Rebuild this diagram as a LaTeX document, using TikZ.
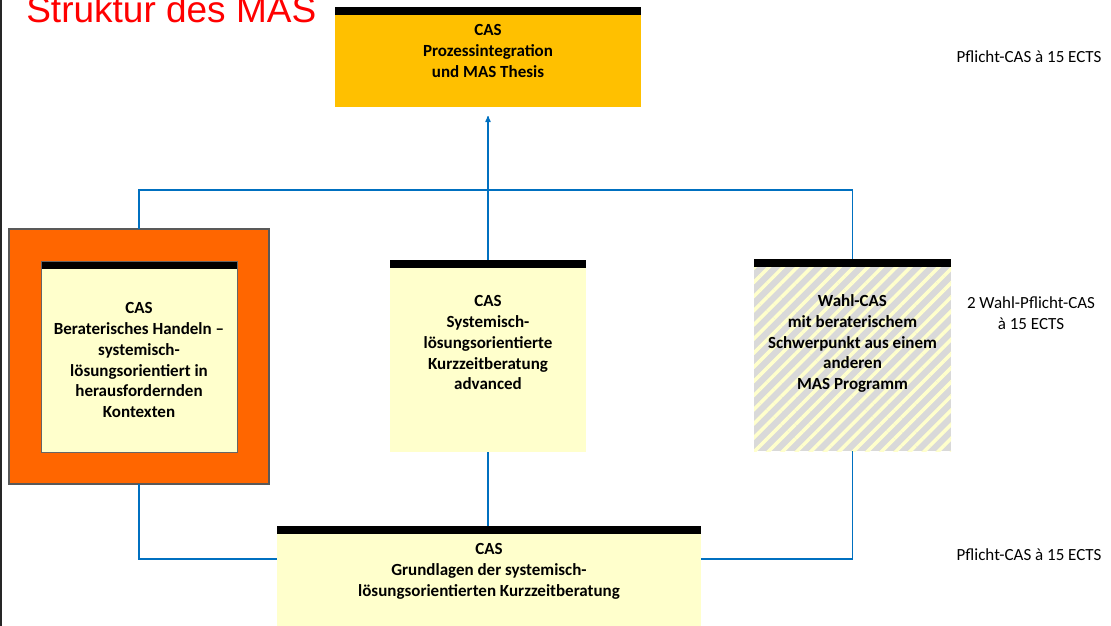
\documentclass[tikz,border=0pt]{standalone}
\usepackage{fontspec}
\setmainfont{Carlito}
\newfontfamily\titlefont{Liberation Sans}
\usepackage{tikz}
\usetikzlibrary{arrows,positioning,patterns.meta}
\definecolor{gold}{HTML}{FFC000}
\definecolor{orangebox}{HTML}{FF6600}
\definecolor{paleyellow}{HTML}{FFFFCC}
\definecolor{hatchgray}{HTML}{D9D9D9}
\definecolor{linkblue}{HTML}{0070C0}

\begin{document}
\begin{tikzpicture}[x=1pt,y=-1pt,>=stealth',semithick]
  \tikzstyle{casbox}=[anchor=north west,inner sep=0pt,outer sep=0pt,
    path picture={\fill[black] (path picture bounding box.north west)
      rectangle ([yshift=-8pt]path picture bounding box.north east);}]
  \tikzstyle{castext}=[inner sep=0pt,align=center,
    font=\fontsize{17}{20.7}\selectfont\bfseries]
  \tikzstyle{ects}=[inner sep=0pt,align=center,font=\fontsize{17}{20.5}\selectfont]
  \tikzstyle{link}=[draw=linkblue,line width=1.2pt]

  \useasboundingbox (0,0) rectangle (1111,626);
  \draw[line width=2pt,black!85] (1,0) -- (1,626);

  \node[anchor=base west,inner sep=0pt,text=red,
        font=\titlefont\fontsize{37}{40}\selectfont] (title) at (26,23) {Struktur des MAS};

  % boxes
  \node[casbox,fill=gold,minimum width=306pt,minimum height=100pt] (top) at (335,7) {};
  \node[anchor=north west,inner sep=0pt,outer sep=0pt,fill=orangebox,draw=black!65,
        line width=1.2pt,minimum width=260pt,minimum height=255pt] (outer) at (9,229) {};
  \node[casbox,fill=paleyellow,draw=black!60,thin,minimum width=196pt,
        minimum height=191pt] (cas1) at (41,261) {};
  \node[casbox,fill=paleyellow,minimum width=196pt,minimum height=192pt] (mid) at (390,260) {};
  \node[casbox,preaction={fill=hatchgray},
        pattern={Lines[angle=45,distance=10pt,line width=3.5pt]},pattern color=paleyellow,
        minimum width=197pt,minimum height=192pt] (wahl) at (754,259) {};
  \node[casbox,fill=paleyellow,minimum width=424pt,minimum height=110pt] (base) at (277,526) {};

  % texts
  \node[castext,below=17.5pt of top.north] (toptext) {CAS\\Prozessintegration\\und MAS Thesis};
  \node[castext,below=41.5pt of cas1.north] (cas1text)
    {CAS\\Beraterisches Handeln –\\systemisch-\\lösungsorientiert in\\herausfordernden\\Kontexten};
  \node[castext,below=35.5pt of mid.north] (midtext)
    {CAS\\Systemisch-\\lösungsorientierte\\Kurzzeitberatung\\advanced};
  \node[castext,below=35.5pt of wahl.north] (wahltext)
    {Wahl-CAS\\mit beraterischem\\Schwerpunkt aus einem\\anderen\\MAS Programm};
  \node[castext,below=17.5pt of base.north] (basetext)
    {CAS\\Grundlagen der systemisch-\\lösungsorientierten Kurzzeitberatung};

  \node[ects] (ectstop) at (1029,57) {Pflicht-CAS à 15 ECTS};
  \node[ects] (ectsmid) at (1031,313) {2 Wahl-Pflicht-CAS\\à 15 ECTS};
  \node[ects] (ectsbase) at (1029,555) {Pflicht-CAS à 15 ECTS};

  % connectors
  \coordinate (bus) at (489,190);
  \draw[link] (outer.north) |- (bus) -| (wahl.north);
  \draw[link,->,shorten >=9pt] (mid.north) -- (top.south);
  \draw[link] (mid.south) -- (mid.south |- base.north);
  \draw[link] (outer.south) |- ([yshift=-33pt]base.north west);
  \draw[link] (wahl.south) |- ([yshift=-33pt]base.north east);
\end{tikzpicture}
\end{document}
